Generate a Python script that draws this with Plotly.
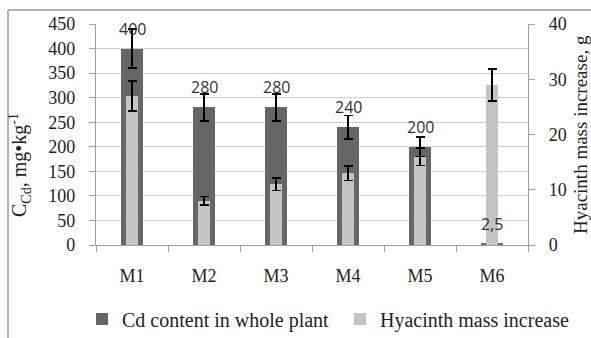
import plotly.graph_objects as go

categories = ["M1", "M2", "M3", "M4", "M5", "M6"]
cd_content = [400, 280, 280, 240, 200, 2.5]
cd_error = [40, 28, 28, 24, 20, 0.25]
mass_increase = [27, 8, 11, 13, 16, 29]
mass_error = [2.7, 0.8, 1.1, 1.3, 1.6, 2.9]

left_ticks = list(range(0, 451, 50))
right_ticks = list(range(0, 41, 10))

DARK = "#666666"
LIGHT = "#c4c4c4"
SERIF = "Liberation Serif, Times New Roman, serif"
SANS = "Open Sans, Liberation Sans, sans-serif"
TXT = "#222222"

def fmt(v):
    return ("%g" % v).replace(".", ",")

W, H = 591, 338
L, T = 96, 24
PR, PB = 528, 245           # plot right / bottom in px
R, B = W - PR, H - PB
pw, ph = PR - L, PB - T
fx = lambda px: (px - L) / pw
fy = lambda py: (PB - py) / ph

fig = go.Figure()
fig.add_trace(go.Bar(
    x=categories, y=cd_content, name="Cd content in whole plant",
    marker=dict(color=DARK, line=dict(width=0)), width=0.31, yaxis="y",
    error_y=dict(type="data", array=cd_error, color="black", thickness=1.6, width=4.5),
    legendwidth=213,
))
fig.add_trace(go.Bar(
    x=categories, y=mass_increase, name="Hyacinth mass increase",
    marker=dict(color=LIGHT, line=dict(width=0)), width=0.18, yaxis="y2",
    error_y=dict(type="data", array=mass_error, color="black", thickness=1.6, width=4.5),
    legendwidth=200,
))

for c, v in zip(categories, cd_content):
    fig.add_annotation(x=c, y=v, xref="x", yref="y", text=fmt(v), showarrow=False,
                       yshift=20, font=dict(family=SANS, size=16, color="#333333"))

# axis titles
fig.add_annotation(x=fx(20), y=fy(165), xref="paper", yref="paper", showarrow=False,
                   text="C<sub>Cd</sub>, mg•kg<sup>-1</sup>", textangle=-90,
                   xanchor="center", yanchor="middle",
                   font=dict(family=SERIF, size=20, color=TXT))
fig.add_annotation(x=fx(580), y=fy(135), xref="paper", yref="paper", showarrow=False,
                   text="Hyacinth mass increase, g", textangle=-90,
                   xanchor="center", yanchor="middle",
                   font=dict(family=SERIF, size=19, color=TXT))

# outer chart frame (top and left edges visible)
fig.add_shape(type="line", xref="paper", yref="paper", x0=fx(8), x1=fx(600), y0=fy(10), y1=fy(10),
              line=dict(color="#9a9a9a", width=1.5))
fig.add_shape(type="line", xref="paper", yref="paper", x0=fx(8), x1=fx(8), y0=fy(10), y1=fy(345),
              line=dict(color="#9a9a9a", width=1.5))

fig.update_layout(
    width=W, height=H, margin=dict(l=L, r=R, t=T, b=B, autoexpand=False),
    paper_bgcolor="white", plot_bgcolor="white",
    barmode="overlay", bargap=0,
    showlegend=True,
    legend=dict(orientation="h", x=fx(82), xanchor="left", y=fy(319), yanchor="middle",
                font=dict(family=SERIF, size=20, color=TXT),
                entrywidthmode="pixels", itemwidth=30,
                bgcolor="rgba(0,0,0,0)"),
    xaxis=dict(
        type="category", tickson="boundaries", ticks="outside", ticklen=6, tickcolor="#a0a0a0",
        showline=True, linecolor="#a0a0a0", linewidth=1.2, showgrid=False,
        tickfont=dict(family=SERIF, size=18, color=TXT), ticklabelstandoff=14,
    ),
    yaxis=dict(
        range=[0, 450], tickvals=left_ticks, ticks="outside", ticklen=6, tickcolor="#a0a0a0",
        showline=True, linecolor="#a0a0a0", linewidth=1.2,
        showgrid=True, gridcolor="#d0d0d0", gridwidth=1.2, zeroline=False,
        tickfont=dict(family=SERIF, size=18, color=TXT), ticklabelstandoff=10,
    ),
    yaxis2=dict(
        range=[0, 40], tickvals=right_ticks, overlaying="y", side="right",
        ticks="outside", ticklen=6, tickcolor="#a0a0a0",
        showline=True, linecolor="#a0a0a0", linewidth=1.2, showgrid=False, zeroline=False,
        tickfont=dict(family=SERIF, size=18, color=TXT), ticklabelstandoff=10,
    ),
)

fig.write_html("out.html", config={"displayModeBar": False},
               post_script="document.body.style.margin='0';document.body.style.overflow='hidden';")
